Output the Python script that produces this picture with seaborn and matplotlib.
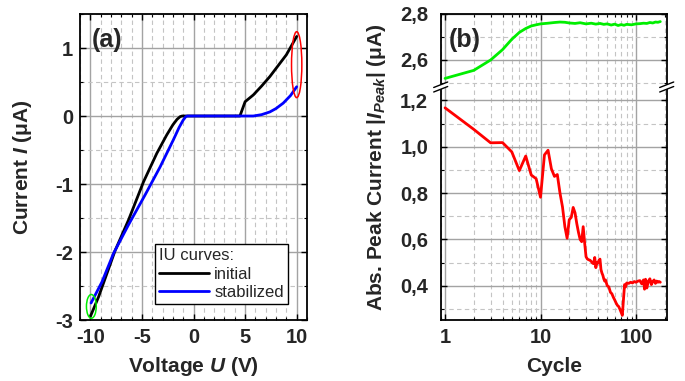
import numpy as np
import pandas as pd
import matplotlib
matplotlib.use("Agg")
import matplotlib.pyplot as plt
import matplotlib.ticker as mticker
from matplotlib.patches import Ellipse, Polygon
from matplotlib.lines import Line2D
import seaborn as sns

# ---------------- data ----------------
# (a) IU curves
initial_v = [-10.0, -9.2, -8.4, -7.6, -6.3, -4.85, -3.56, -2.6, -2.0, -1.6, -1.3, -1.1,
             0.0, 2.0, 4.0, 4.5, 5.0, 5.8, 6.6, 7.4, 8.2, 9.0, 10.0]
initial_i = [-2.95, -2.66, -2.32, -1.98, -1.53, -0.97, -0.55, -0.28, -0.13, -0.05, -0.01, 0.0,
             0.0, 0.0, 0.0, 0.0, 0.21, 0.31, 0.44, 0.58, 0.74, 0.90, 1.17]
stab_v = [-9.93, -8.87, -7.75, -6.3, -4.69, -3.24, -1.95, -1.4, -1.0, -0.75, -0.6,
          0.0, 2.0, 4.0, 5.8, 6.6, 7.4, 8.0, 8.7, 9.4, 10.0]
stab_i = [-2.75, -2.44, -2.02, -1.6, -1.16, -0.75, -0.35, -0.17, -0.06, -0.01, 0.0,
          0.0, 0.0, 0.0, 0.0, 0.02, 0.06, 0.11, 0.19, 0.30, 0.43]
legend_title = "IU curves:"
series_names = ["initial", "stabilized"]

# (b) absolute peak current vs cycle
green_cycle = [1, 2, 3, 4, 5, 6, 7, 8, 9, 10, 12, 14, 16, 18, 20, 23, 26, 30, 34, 38, 42, 46,
               50, 55, 60, 65, 70, 75, 80, 90, 100, 110, 120, 130, 140, 150, 160, 170, 180]
green_peak = [2.52, 2.555, 2.60, 2.645, 2.69, 2.72, 2.737, 2.748, 2.753, 2.757, 2.760, 2.763,
              2.765, 2.764, 2.761, 2.759, 2.762, 2.757, 2.760, 2.756, 2.759, 2.755, 2.757,
              2.752, 2.756, 2.750, 2.754, 2.751, 2.755, 2.753, 2.757, 2.758, 2.760, 2.759,
              2.763, 2.761, 2.765, 2.764, 2.767]
red_cycle = [1, 2, 3, 4, 5, 6, 7, 8, 9, 10, 11, 12, 13, 14, 15, 16, 17, 18, 19, 20, 21, 22,
             23, 24, 25, 26, 27, 28, 29, 30, 31, 32, 33, 34, 35, 36, 37, 38, 39, 40, 41, 42,
             43, 44, 45, 46, 47, 48, 50, 52, 54, 56, 58, 60, 62, 64, 66, 68, 70, 72, 74, 76,
             78, 80, 84, 88, 92, 96, 100, 105, 110, 115, 120, 123, 126, 130, 135, 140, 145,
             150, 155, 160, 165, 170, 175, 180]
red_peak = [1.168, 1.075, 1.017, 1.018, 0.978, 0.897, 0.960, 0.878, 0.862, 0.782, 0.965,
            0.985, 0.905, 0.872, 0.880, 0.800, 0.740, 0.655, 0.605, 0.685, 0.695, 0.738,
            0.715, 0.668, 0.630, 0.600, 0.590, 0.655, 0.585, 0.525, 0.515, 0.512, 0.510,
            0.505, 0.498, 0.495, 0.522, 0.478, 0.500, 0.498, 0.510, 0.515, 0.470, 0.455,
            0.445, 0.430, 0.420, 0.425, 0.400, 0.395, 0.372, 0.365, 0.350, 0.338, 0.325,
            0.315, 0.310, 0.298, 0.285, 0.272, 0.340, 0.405, 0.395, 0.412, 0.410, 0.415,
            0.412, 0.418, 0.415, 0.420, 0.422, 0.408, 0.425, 0.385, 0.428, 0.390, 0.420,
            0.430, 0.405, 0.418, 0.425, 0.410, 0.420, 0.415, 0.418, 0.415]

# ---------------- style ----------------
sns.set_theme(style="ticks")
plt.rcParams['font.family'] = ['Liberation Sans', 'DejaVu Sans']
plt.rcParams['mathtext.fontset'] = 'custom'
plt.rcParams['mathtext.rm'] = 'Liberation Sans:bold'
plt.rcParams['mathtext.it'] = 'Liberation Sans:italic:bold'
plt.rcParams['mathtext.bf'] = 'Liberation Sans:bold'
plt.rcParams['axes.unicode_minus'] = False

W, H = 685, 381
fig = plt.figure(figsize=(W / 100, H / 100), dpi=100)

def fx(px):
    return px / W

def fy(py):
    return 1 - py / H

MAJ_GRID = dict(color='#a3a3a3', lw=1.0, ls='-')
MIN_GRID = dict(color='#c4c4c4', lw=0.8, ls=(0, (4, 3)))
TICK_FS = 14.5
LABEL_FS = 15

def style_axes(ax):
    ax.set_axisbelow(True)
    ax.grid(which='major', **MAJ_GRID)
    ax.grid(which='minor', **MIN_GRID)
    for s in ax.spines.values():
        s.set_linewidth(1.3)
        s.set_color('black')
    ax.tick_params(which='both', direction='in', top=True, right=True, color='black')
    ax.tick_params(which='major', length=4, width=1.0, labelsize=TICK_FS)
    ax.tick_params(which='minor', length=2.5, width=0.8)
    for lab in ax.get_xticklabels() + ax.get_yticklabels():
        lab.set_fontweight('bold')

# ---------------- panel (a) ----------------
axA = fig.add_axes([fx(80), fy(320), fx(307) - fx(80), fy(14) - fy(320)])
dfA = pd.concat([
    pd.DataFrame({"U": initial_v, "I": initial_i, "curve": series_names[0]}),
    pd.DataFrame({"U": stab_v, "I": stab_i, "curve": series_names[1]}),
])
sns.lineplot(data=dfA, x="U", y="I", hue="curve", palette={"initial": "black", "stabilized": "#0000ff"},
             estimator=None, sort=False, lw=2.0, ax=axA)
axA.set_xlim(-11, 11)
axA.set_ylim(-3, 1.5)
axA.xaxis.set_major_locator(mticker.FixedLocator([-10, -5, 0, 5, 10]))
axA.xaxis.set_minor_locator(mticker.MultipleLocator(1))
axA.yaxis.set_major_locator(mticker.FixedLocator([-3, -2, -1, 0, 1]))
axA.yaxis.set_minor_locator(mticker.MultipleLocator(0.5))
axA.xaxis.set_major_formatter(mticker.FuncFormatter(lambda v, p: f"{v:.0f}"))
axA.yaxis.set_major_formatter(mticker.FuncFormatter(lambda v, p: f"{v:.0f}"))
axA.set_xlabel("")
axA.set_ylabel("")
style_axes(axA)
axA.tick_params(axis='x', which='major', pad=6)
axA.tick_params(axis='y', which='major', pad=5)

axA.add_patch(Ellipse((10.0, 0.755), 1.0, 0.97, fill=False, ec='#ff0000', lw=1.1, zorder=5))
axA.add_patch(Ellipse((-9.9, -2.80), 0.95, 0.35, fill=False, ec='#00ee00', lw=1.1, zorder=5))

leg = axA.legend(title=legend_title, loc='lower right', bbox_to_anchor=(0.917, 0.052),
                 borderaxespad=0, fontsize=12, title_fontsize=12, frameon=True,
                 fancybox=False, edgecolor='black', framealpha=1, handlelength=3.0,
                 handletextpad=0.3, borderpad=0.25, labelspacing=0.2, alignment='left')
leg.get_frame().set_linewidth(1.0)
for ln in leg.get_lines():
    ln.set_linewidth(2.0)

axA.text(0.05, 0.915, "(a)", transform=axA.transAxes, fontsize=18, fontweight='bold',
         ha='left', va='center')

# ---------------- panel (b) ----------------
xl, xr = 440.7, 666.7
ybreak = 87
axU = fig.add_axes([fx(xl), fy(ybreak), fx(xr) - fx(xl), fy(14) - fy(ybreak)])
axL = fig.add_axes([fx(xl), fy(320), fx(xr) - fx(xl), fy(ybreak) - fy(320)])

sns.lineplot(x=green_cycle, y=green_peak, color='#00ee00', lw=2.0, estimator=None, sort=False, ax=axU)
sns.lineplot(x=red_cycle, y=red_peak, color='#ff0000', lw=2.0, estimator=None, sort=False, ax=axL)

for ax in (axU, axL):
    ax.set_xscale('log')
    ax.set_xlim(0.9, 210)
    ax.xaxis.set_major_locator(mticker.LogLocator(base=10, numticks=10))
    ax.xaxis.set_minor_locator(mticker.LogLocator(base=10, subs=np.arange(2, 10), numticks=20))
    ax.xaxis.set_minor_formatter(mticker.NullFormatter())
    ax.xaxis.set_major_formatter(mticker.FuncFormatter(lambda v, p: f"{v:.0f}"))
    ax.yaxis.set_major_formatter(mticker.FuncFormatter(lambda v, p: f"{v:.1f}".replace('.', ',')))
    ax.set_xlabel("")
    ax.set_ylabel("")

axU.set_ylim(2.8 - 73 / 230, 2.8)
axU.yaxis.set_major_locator(mticker.FixedLocator([2.6, 2.8]))
axU.yaxis.set_minor_locator(mticker.FixedLocator([2.5, 2.7]))
axL.set_ylim(0.252, 1.258)
axL.yaxis.set_major_locator(mticker.FixedLocator([0.4, 0.6, 0.8, 1.0, 1.2]))
axL.yaxis.set_minor_locator(mticker.FixedLocator([0.3, 0.5, 0.7, 0.9, 1.1]))

style_axes(axU)
style_axes(axL)
axU.spines['bottom'].set_visible(False)
axL.spines['top'].set_visible(False)
axU.tick_params(which='both', bottom=False, labelbottom=False)
axL.tick_params(which='both', top=False)
axL.tick_params(axis='x', which='major', pad=6)
for ax in (axU, axL):
    ax.tick_params(axis='y', which='major', pad=9)

axU.text(0.035, 0.64, "(b)", transform=axU.transAxes, fontsize=18, fontweight='bold',
         ha='left', va='center')

# break marks
for xs in (xl, xr):
    poly = Polygon([(fx(xs - 7), fy(87.5)), (fx(xs + 7), fy(82)), (fx(xs + 7), fy(86.5)),
                    (fx(xs - 7), fy(92))], closed=True, transform=fig.transFigure,
                   fc='white', ec='none', zorder=10)
    fig.add_artist(poly)
    for dy in (0, 4.5):
        fig.add_artist(Line2D([fx(xs - 7), fx(xs + 7)], [fy(87.5 + dy), fy(82 + dy)],
                              transform=fig.transFigure, color='black', lw=1.0, zorder=11))

# axis labels
fig.text(fx(193.5), fy(367), "Voltage $U$ (V)", ha='center', va='center',
         fontsize=LABEL_FS, fontweight='bold')
fig.text(fx(22), fy(167), "Current $I$ (μA)", ha='center', va='center', rotation=90,
         fontsize=LABEL_FS, fontweight='bold')
fig.text(fx(553.7), fy(367), "Cycle", ha='center', va='center',
         fontsize=LABEL_FS, fontweight='bold')
fig.text(fx(377), fy(167), "Abs. Peak Current |$I_{Peak}$| (μA)", ha='center', va='center',
         rotation=90, fontsize=LABEL_FS, fontweight='bold')

fig.savefig("out.png", dpi=100)
